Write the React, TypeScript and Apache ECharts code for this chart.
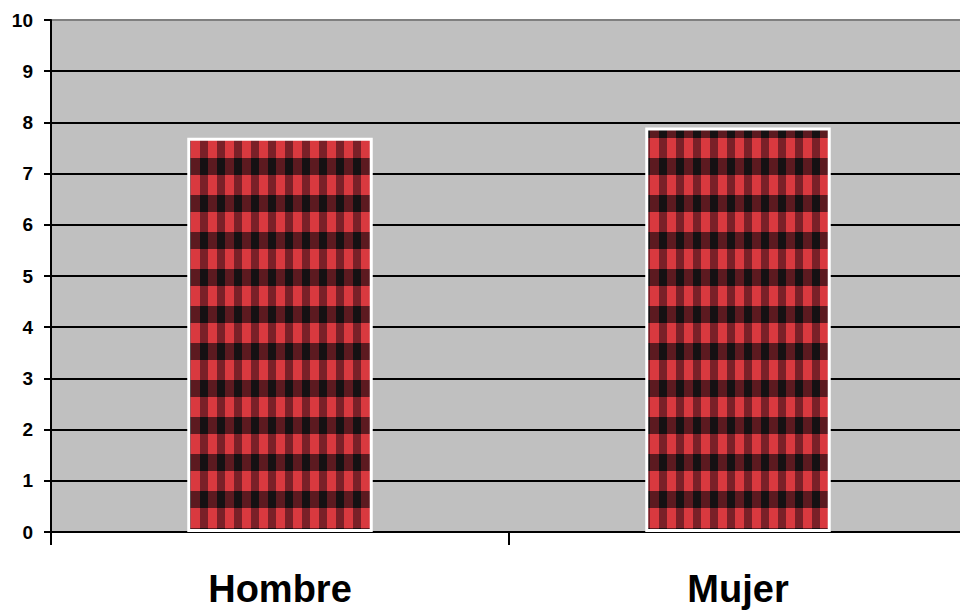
import React, { useEffect, useRef } from "react";
import * as echarts from "echarts";

const categories = ["Hombre", "Mujer"];
const values = [7.7, 7.9];
const yMin = 0;
const yMax = 10;
const yInterval = 1;

function makePlaid(): HTMLCanvasElement {
  const w = 17;
  const h = 37;
  const c = document.createElement("canvas");
  c.width = w;
  c.height = h;
  const ctx = c.getContext("2d")!;
  const stripeX = [13, 8]; // start, width (wraps)
  const bandY = [10, 17];
  const inStripe = (x: number) => ((x - stripeX[0] + w) % w) < stripeX[1];
  const inBand = (y: number) => ((y - bandY[0] + h) % h) < bandY[1];
  for (let x = 0; x < w; x++) {
    for (let y = 0; y < h; y++) {
      const s = inStripe(x);
      const b = inBand(y);
      let col = "#d9393f";
      if (s && b) col = "#151113";
      else if (b) col = "#5c1a20";
      else if (s) col = "#7a2028";
      ctx.fillStyle = col;
      ctx.fillRect(x, y, 1, 1);
    }
  }
  return c;
}

export default function App() {
  const ref = useRef<HTMLDivElement>(null);
  useEffect(() => {
    document.body.style.margin = "0";
    const chart = echarts.init(ref.current!, undefined, { renderer: "svg" });
    const plaid = makePlaid();
    const splitColors = Array.from({ length: 11 }, (_, i) => (i === 10 ? "#7f7f7f" : "#000000"));
    chart.setOption({
      animation: false,
      grid: {
        left: 51,
        top: 20,
        right: -7,
        bottom: 82,
        show: true,
        outerBoundsMode: "none",
        containLabel: false,
        backgroundColor: "#c0c0c0",
        borderWidth: 0,
      },
      xAxis: {
        type: "category",
        data: categories,
        axisLine: { show: true, lineStyle: { color: "#000", width: 2 } },
        axisTick: { show: true, length: 13, lineStyle: { color: "#000", width: 2 } },
        axisLabel: {
          margin: 38,
          fontSize: 38,
          fontWeight: "bold",
          fontFamily: "Liberation Sans, Arial, sans-serif",
          color: "#000",
        },
      },
      yAxis: {
        type: "value",
        min: yMin,
        max: yMax,
        interval: yInterval,
        axisLine: { show: true, lineStyle: { color: "#000", width: 2 } },
        axisTick: { show: true, length: 7, lineStyle: { color: "#000", width: 2 } },
        splitLine: { show: true, lineStyle: { color: splitColors, width: 2 } },
        axisLabel: {
          margin: 18,
          fontSize: 19,
          fontWeight: "bold",
          fontFamily: "Liberation Sans, Arial, sans-serif",
          color: "#000",
        },
      },
      series: [
        {
          type: "bar",
          data: values,
          barWidth: "40.5%",
          itemStyle: {
            color: { image: plaid, repeat: "repeat" },
            borderColor: "#ffffff",
            borderWidth: 3,
          },
        },
      ],
    });
    return () => chart.dispose();
  }, []);
  return <div ref={ref} style={{ width: 960, height: 614 }} />;
}
